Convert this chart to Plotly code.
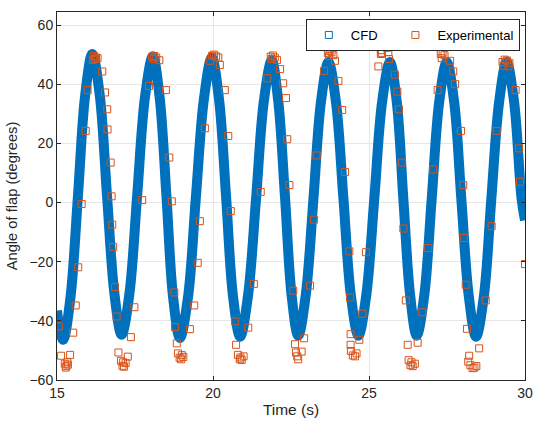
import plotly.graph_objects as go

# CFD curve (extremes and intermediate points)
cfd_t = [15.00, 15.10, 15.20, 15.43, 15.67, 15.90, 16.13, 16.37, 16.60, 16.84, 17.07,
         17.32, 17.57, 17.82, 18.07, 18.29, 18.51, 18.72, 18.94, 19.20, 19.45, 19.71,
         19.96, 20.19, 20.42, 20.64, 20.87, 21.12, 21.38, 21.63, 21.88, 22.09, 22.31,
         22.52, 22.73, 22.97, 23.22, 23.46, 23.70, 23.94, 24.18, 24.42, 24.66, 24.91,
         25.17, 25.42, 25.67, 25.89, 26.10, 26.32, 26.53, 26.77, 27.01, 27.25, 27.49,
         27.73, 27.96, 28.20, 28.43, 28.68, 28.92, 29.17, 29.41, 29.65, 29.89, 30.00]
cfd_y = [-36.5, -43.5, -46.4, -32.2, 1.9, 36.0, 50.2, 36.3, 2.8, -30.8, -44.7,
         -30.9, 2.4, 35.6, 49.4, 35.5, 1.8, -31.9, -45.8, -31.9, 1.6, 35.1,
         49.0, 35.2, 1.8, -31.6, -45.4, -31.7, 1.3, 34.3, 48.0, 34.4, 1.5,
         -31.4, -45.0, -31.5, 1.3, 34.0, 47.5, 34.0, 1.3, -31.5, -45.0, -31.5,
         1.3, 34.0, 47.5, 34.0, 1.3, -31.5, -45.0, -31.5, 1.3, 34.0, 47.5,
         33.9, 1.1, -31.8, -45.4, -31.8, 1.1, 33.9, 47.5, 34.0, 1.3, -6.0]

# Experimental samples
exp_t = [15.06, 15.13, 15.42, 15.25, 15.30, 15.35, 15.28, 15.33, 15.52, 15.60, 15.68, 15.79,
         15.92, 15.98, 16.15, 16.18, 16.22, 16.25, 16.30, 16.45, 16.54, 16.61, 16.62, 16.72,
         16.75, 16.77, 16.80, 16.86, 16.91, 16.97, 17.05, 17.10, 17.12, 17.15, 17.20, 17.27,
         17.37, 17.48, 17.73, 17.95, 18.05, 18.10, 18.12, 18.18, 18.28, 18.49, 18.60, 18.68,
         18.76, 18.78, 18.84, 18.88, 18.93, 18.98, 19.00, 19.05, 19.26, 19.40, 19.51, 19.58,
         19.74, 19.90, 19.97, 20.03, 20.10, 20.17, 20.22, 20.38, 20.49, 20.57, 20.71, 20.74,
         20.80, 20.86, 20.88, 20.92, 20.98, 21.13, 21.31, 21.53, 21.74, 21.85, 21.88, 21.92,
         21.98, 22.05, 22.15, 22.25, 22.34, 22.38, 22.45, 22.57, 22.63, 22.66, 22.70, 22.73,
         22.84, 22.92, 23.11, 23.24, 23.32, 23.56, 23.68, 23.72, 23.74, 23.80, 23.86, 23.91,
         24.02, 24.14, 24.23, 24.37, 24.39, 24.41, 24.41, 24.42, 24.48, 24.55, 24.60, 24.69,
         24.79, 24.90, 25.30, 25.38, 25.38, 25.42, 25.45, 25.52, 25.58, 25.62, 25.64, 25.83,
         25.91, 25.96, 26.05, 26.10, 26.18, 26.24, 26.27, 26.33, 26.36, 26.40, 26.47, 26.56,
         26.71, 26.90, 27.06, 27.20, 27.30, 27.33, 27.36, 27.42, 27.60, 27.70, 27.76, 27.95,
         28.02, 28.04, 28.10, 28.14, 28.18, 28.21, 28.25, 28.32, 28.38, 28.44, 28.53, 28.74,
         28.93, 29.09, 29.28, 29.31, 29.35, 29.42, 29.47, 29.50, 29.70, 29.81, 29.84, 30.00]
exp_y = [-41.9, -51.8, -51.5, -54.5, -55.3, -54.8, -55.8, -54.0, -44.0, -34.8, -21.9, -0.5,
         24.2, 38.0, 48.2, 49.5, 48.5, 49.0, 48.8, 44.3, 37.2, 31.5, 24.7, 13.5,
         2.1, -7.5, -15.0, -28.6, -38.5, -50.7, -53.5, -55.2, -54.0, -55.5, -54.3, -52.1,
         -45.5, -35.4, 0.8, 39.4, 49.2, 48.5, 49.5, 49.0, 48.1, 38.0, 15.2, 0.4,
         -30.4, -42.1, -47.6, -51.0, -52.5, -53.0, -51.6, -52.2, -42.8, -34.8, -20.4, -6.3,
         25.1, 47.9, 49.6, 50.0, 49.4, 49.0, 46.5, 38.0, 22.5, -2.9, -40.2, -48.1,
         -51.5, -53.0, -52.4, -53.2, -52.0, -42.3, -27.5, 3.6, 42.0, 49.3, 48.5, 49.7,
         49.0, 48.2, 45.1, 40.3, 35.3, 21.4, 5.9, -29.8, -47.9, -50.7, -52.0, -53.0,
         -50.4, -45.9, -28.1, -5.8, 15.9, 44.5, 50.5, 49.5, 51.2, 50.8, 49.8, 47.9,
         41.1, 31.3, 10.3, -16.5, -32.1, -44.5, -48.1, -50.2, -51.7, -52.0, -51.0, -46.4,
         -37.6, -16.8, 46.0, 50.2, 51.5, 50.5, 52.8, 53.0, 52.3, 50.8, 48.5, 43.2,
         37.5, 31.5, 13.5, -8.8, -33.1, -48.1, -53.3, -55.0, -54.0, -55.3, -54.5, -47.4,
         -37.1, -15.4, 11.2, 38.0, 50.2, 48.8, 50.6, 49.8, 47.9, 44.3, 40.0, 24.2,
         5.9, -12.0, -27.8, -42.7, -53.8, -51.8, -55.0, -56.0, -55.8, -55.3, -49.3, -33.1,
         -8.0, 24.2, 47.5, 46.2, 48.3, 48.0, 46.0, 47.2, 38.0, 18.3, 7.0, -20.8]

x_ticks = [15, 20, 25, 30]
y_ticks = [-60, -40, -20, 0, 20, 40, 60]

BLUE = "#0072BD"
ORANGE = "#D95319"
AX = "#262626"
FONT = "Liberation Sans, Arial, sans-serif"

fig = go.Figure()
fig.add_trace(go.Scatter(x=cfd_t, y=cfd_y, mode="lines",
                         line=dict(color=BLUE, width=10, shape="spline"),
                         showlegend=False, hoverinfo="skip"))
fig.add_trace(go.Scatter(x=[None], y=[None], mode="markers", name="CFD\u00a0\u00a0\u00a0",
                         marker=dict(symbol="square-open", color=BLUE, size=7,
                                     line=dict(width=1))))
fig.add_trace(go.Scatter(x=exp_t, y=exp_y, mode="markers", name="Experimental",
                         marker=dict(symbol="square-open", color=ORANGE, size=7,
                                     line=dict(width=1))))

axis_common = dict(showline=True, linecolor=AX, linewidth=1, mirror="ticks",
                   ticks="inside", ticklen=4, tickcolor=AX, automargin=False,
                   showgrid=True, gridcolor="#e6e6e6", gridwidth=1, zeroline=False,
                   tickfont=dict(family=FONT, size=14, color=AX))

fig.update_xaxes(range=[15, 30], tickvals=x_ticks,
                 title=dict(text="Time (s)", font=dict(family=FONT, size=15.5, color=AX), standoff=4),
                 **axis_common)
fig.update_yaxes(range=[-60, 64.4], tickvals=y_ticks,
                 title=dict(text="Angle of flap (degrees)", font=dict(family=FONT, size=14.7, color=AX), standoff=8),
                 **axis_common)

fig.update_layout(
    width=534, height=423,
    margin=dict(l=57, r=9, t=12, b=43),
    paper_bgcolor="white", plot_bgcolor="white",
    font=dict(family=FONT, size=14, color=AX),
    legend=dict(orientation="h", x=0.989, xanchor="right", y=0.981, yanchor="top",
                bgcolor="white", bordercolor=AX, borderwidth=1, itemwidth=34,
                font=dict(family=FONT, size=13, color="black")),
)

fig.write_html("out.html", config={"displayModeBar": False},
               post_script="document.body.style.margin='0';document.body.style.padding='0';")
